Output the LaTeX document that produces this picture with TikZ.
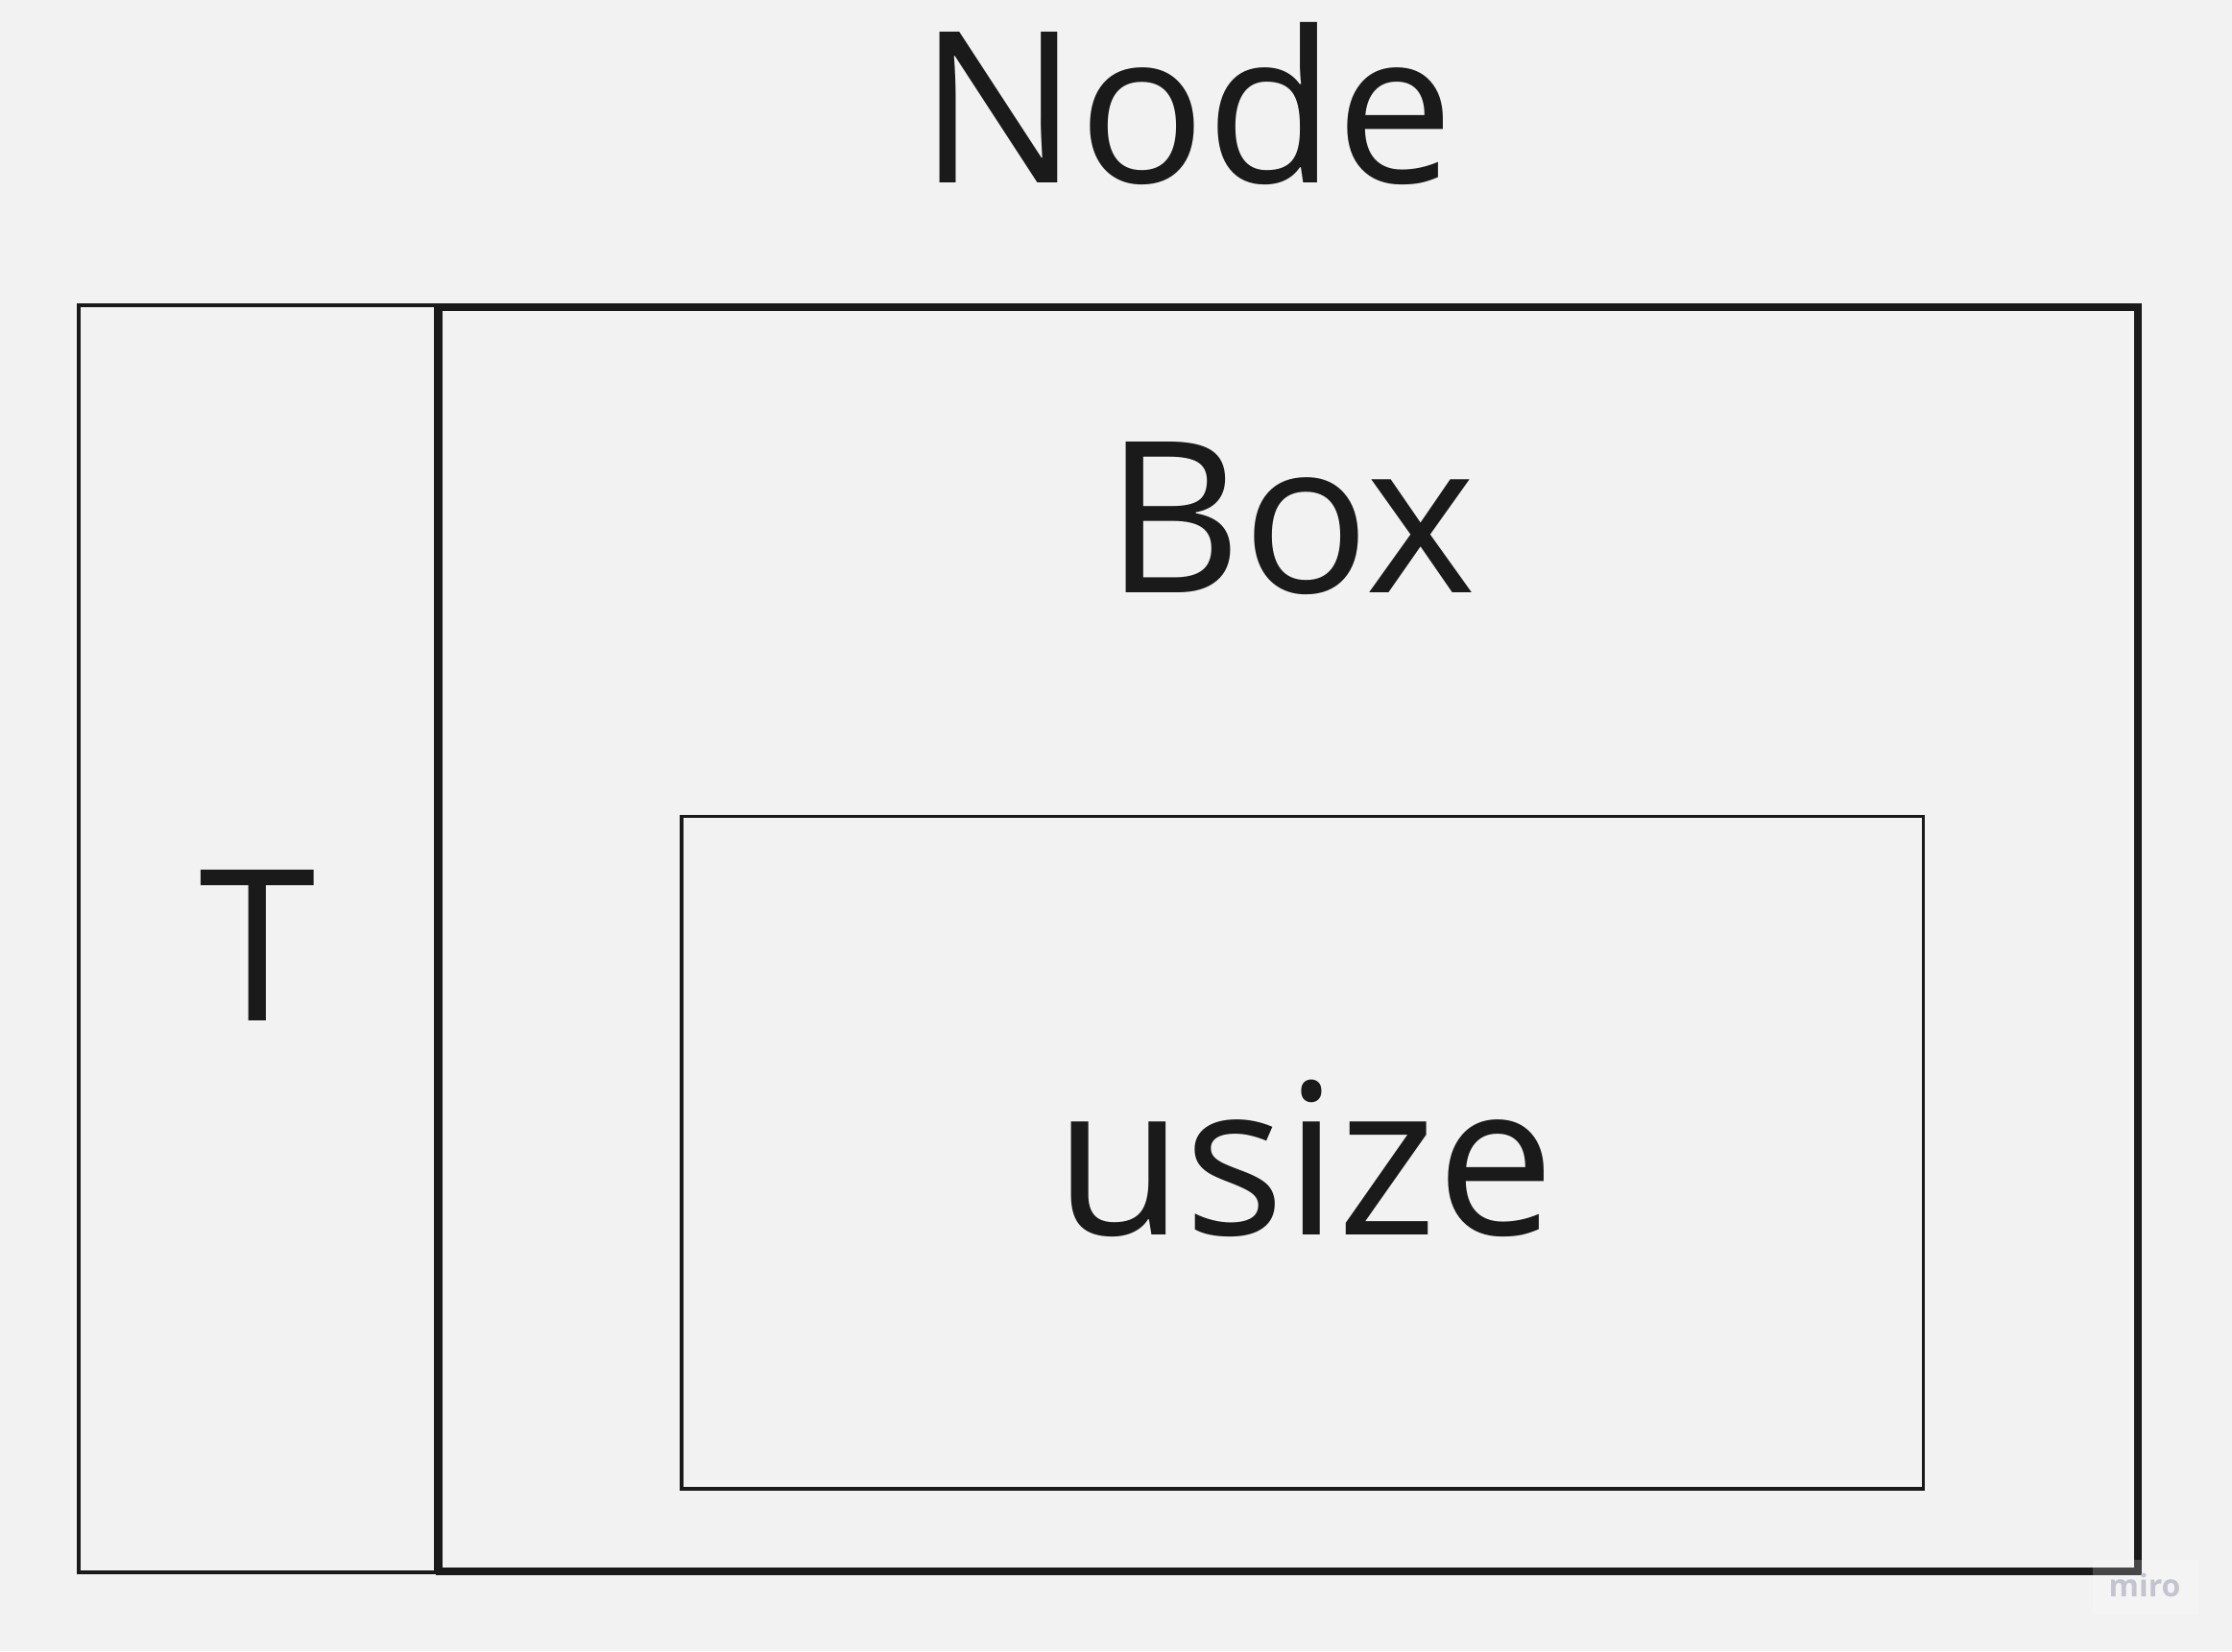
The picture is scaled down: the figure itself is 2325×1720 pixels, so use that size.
\documentclass[tikz,border=0pt]{standalone}
\usepackage{fontspec}
\setmainfont{Open Sans}
\definecolor{bg}{HTML}{F2F2F2}
\definecolor{ink}{HTML}{1A1A1A}
\definecolor{wm}{HTML}{C4C4D0}
\begin{document}
\begin{tikzpicture}[x=0.5pt,y=-0.5pt,
  box/.style={draw=ink, inner sep=0pt, outer sep=0pt},
  big/.style={text=ink, font=\fontsize{110}{132}\selectfont, anchor=base, inner sep=0pt}]
\fill[bg] (0,0) rectangle (2325,1720);
\useasboundingbox (0,0) rectangle (2325,1720);
\node[box, line width=2pt, minimum width=186pt, minimum height=660pt] (tbox) at (268,978) {};
\node[box, line width=3.75pt, minimum width=884.75pt, minimum height=658.5pt] (boxrect) at (1342.25,978.5) {};
\node[box, line width=1.75pt, minimum width=646.75pt, minimum height=350.25pt] (inner) at (1356.75,1200.75) {};
\node[big] (nodelbl) at (1236,190) {Node};
\node[big] (boxlbl) at (1345,617) {Box};
\node[big] (tlbl) at (268,1063) {T};
\node[big] (usizelbl) at (1359,1286) {usize};
\fill[white, opacity=0.2] (2180,1625) rectangle (2290,1682);
\node[text=wm, font=\fontsize{16}{19}\selectfont\bfseries, anchor=base, inner sep=0pt] (miro) at (2234,1663) {miro};
\end{tikzpicture}
\end{document}
